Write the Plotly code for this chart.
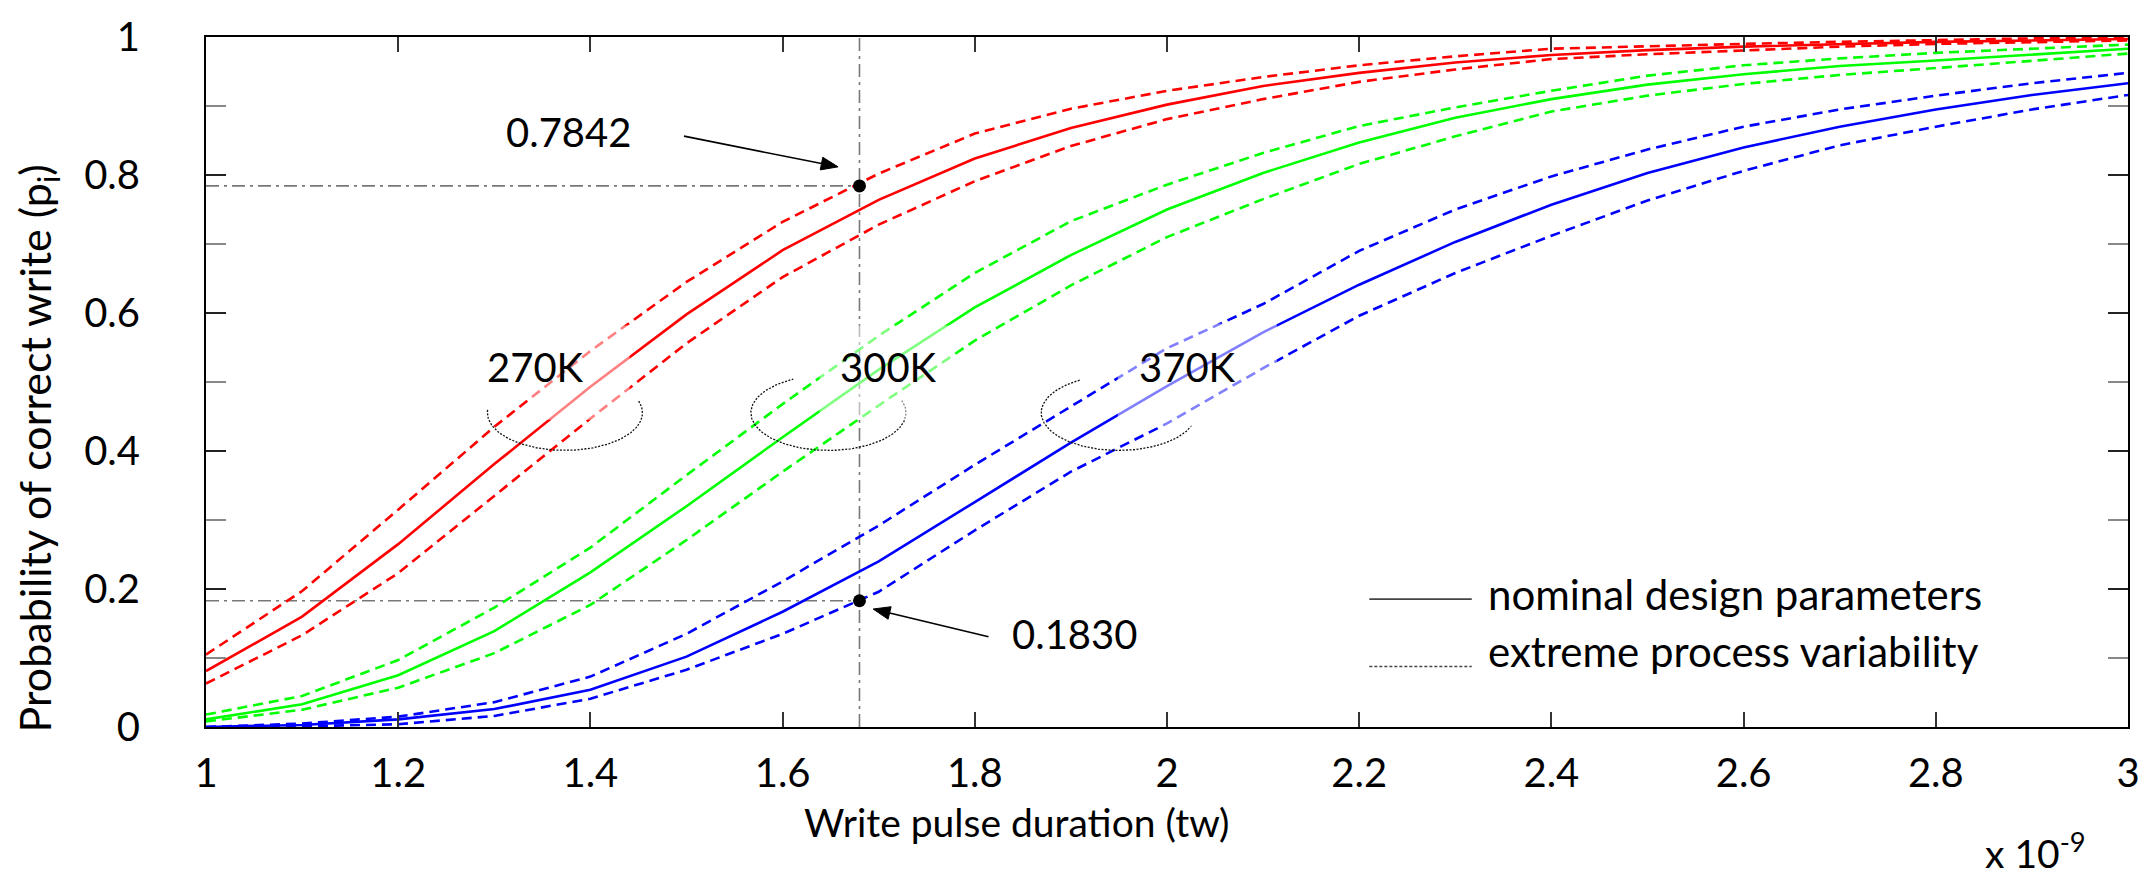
import numpy as np
import plotly.graph_objects as go

# Write pulse duration (x 1e-9 s)
tw = [1.0, 1.1, 1.2, 1.3, 1.4, 1.5, 1.6, 1.7, 1.8, 1.9, 2.0,
      2.1, 2.2, 2.3, 2.4, 2.5, 2.6, 2.7, 2.8, 2.9, 3.0]

# Probability of correct write, 270K
p270_nom = [0.081, 0.160, 0.265, 0.381, 0.493, 0.598, 0.691, 0.764, 0.824, 0.868, 0.902,
            0.929, 0.948, 0.963, 0.974, 0.981, 0.986, 0.990, 0.993, 0.995, 0.997]
p270_hi = [0.105, 0.197, 0.315, 0.435, 0.545, 0.645, 0.732, 0.802, 0.860, 0.896, 0.922,
           0.942, 0.959, 0.972, 0.983, 0.987, 0.990, 0.993, 0.996, 0.998, 1.000]
p270_lo = [0.063, 0.133, 0.223, 0.335, 0.447, 0.556, 0.652, 0.728, 0.791, 0.842, 0.881,
           0.910, 0.935, 0.953, 0.968, 0.975, 0.981, 0.986, 0.990, 0.993, 0.995]

# 300K
p300_nom = [0.011, 0.033, 0.075, 0.139, 0.224, 0.320, 0.420, 0.518, 0.608, 0.684, 0.750,
            0.803, 0.847, 0.883, 0.910, 0.931, 0.946, 0.958, 0.966, 0.975, 0.983]
p300_hi = [0.018, 0.045, 0.097, 0.173, 0.260, 0.365, 0.468, 0.567, 0.658, 0.733, 0.786,
           0.832, 0.871, 0.898, 0.922, 0.944, 0.959, 0.969, 0.977, 0.983, 0.989]
p300_lo = [0.008, 0.025, 0.057, 0.107, 0.177, 0.271, 0.370, 0.466, 0.560, 0.640, 0.710,
           0.765, 0.816, 0.856, 0.892, 0.915, 0.932, 0.945, 0.955, 0.965, 0.976]

# 370K
p370_nom = [0.000, 0.003, 0.011, 0.026, 0.054, 0.102, 0.167, 0.240, 0.326, 0.412, 0.494,
            0.572, 0.641, 0.703, 0.757, 0.803, 0.840, 0.870, 0.895, 0.916, 0.933]
p370_hi = [0.000, 0.005, 0.015, 0.036, 0.073, 0.135, 0.211, 0.292, 0.380, 0.465, 0.549,
           0.613, 0.690, 0.750, 0.798, 0.837, 0.870, 0.895, 0.915, 0.933, 0.948]
p370_lo = [0.000, 0.001, 0.004, 0.016, 0.041, 0.083, 0.135, 0.196, 0.285, 0.370, 0.440,
           0.520, 0.596, 0.658, 0.712, 0.763, 0.806, 0.843, 0.870, 0.895, 0.916]

temps = ["270K", "300K", "370K"]
colors = ["#ff0000", "#00ff00", "#0000ff"]
series = [(p270_nom, p270_hi, p270_lo),
          (p300_nom, p300_hi, p300_lo),
          (p370_nom, p370_hi, p370_lo)]

# Marked operating point
tw_mark = 1.68
p_mark = [0.7842, 0.1830]
p_mark_text = ["0.7842", "0.1830"]

x_ticks = [1, 1.2, 1.4, 1.6, 1.8, 2, 2.2, 2.4, 2.6, 2.8, 3]
x_ticktext = ["1", "1.2", "1.4", "1.6", "1.8", "2", "2.2", "2.4", "2.6", "2.8", "3"]
y_ticks = [0, 0.2, 0.4, 0.6, 0.8, 1]
y_ticktext = ["0", "0.2", "0.4", "0.6", "0.8", "1"]

# ---- page geometry (pixels) ----
W, H = 2152, 886
L, R, T, B = 206, 13, 31, 159
PW, PH = W - L - R, H - T - B
FONT = "Lato"


def px(x):
    return (x - L) / PW


def py(y):
    return (H - B - y) / PH


fig = go.Figure()

# Reference cross-hair through the marked pulse duration
guide = dict(color="#787878", width=1.6, dash="13px,5px,3px,5px")
for p in p_mark:
    fig.add_trace(go.Scatter(x=[1, tw_mark], y=[p, p], mode="lines",
                             line=guide, hoverinfo="skip", showlegend=False))
fig.add_trace(go.Scatter(x=[tw_mark, tw_mark], y=[0, 1], mode="lines",
                         line=guide, hoverinfo="skip", showlegend=False))

# Probability curves
for (nom, hi, lo), c, name in zip(series, colors, temps):
    for ys in (hi, lo):
        fig.add_trace(go.Scatter(x=tw, y=ys, mode="lines", name=name,
                                 line=dict(color=c, width=2.6, dash="10px,6px"),
                                 showlegend=False))
    fig.add_trace(go.Scatter(x=tw, y=nom, mode="lines", name=name,
                             line=dict(color=c, width=2.6), showlegend=False))

# Dotted grouping arcs around each temperature bundle
arcs = [(567, -18, 185), (832, -19, 243), (1124, 20, 241)]
for cx, a0, a1 in arcs:
    th = np.radians(np.linspace(a0, a1, 120))
    ax_px = cx + 78 * np.cos(th)
    ay_px = 410 + 38 * np.sin(th)
    fig.add_trace(go.Scatter(x=1 + (ax_px - L) / PW * 2, y=(H - B - ay_px) / PH,
                             mode="lines", line=dict(color="#111", width=1.3, dash="2px,1.5px"),
                             hoverinfo="skip", showlegend=False))

# Marked points
fig.add_trace(go.Scatter(x=[tw_mark] * len(p_mark), y=p_mark, mode="markers",
                         marker=dict(color="black", size=13), showlegend=False))

shapes = []
# Translucent label backgrounds
for x0, x1, y0, y1 in [(533, 632, 322, 417), (823, 957, 322, 417), (1123, 1283, 320, 425)]:
    shapes.append(dict(type="rect", xref="paper", yref="paper",
                       x0=px(x0), x1=px(x1), y0=py(y1), y1=py(y0),
                       fillcolor="rgba(255,255,255,0.5)", line=dict(width=0), layer="above"))
# Legend keys
shapes.append(dict(type="line", xref="paper", yref="paper", x0=px(1376), x1=px(1479),
                   y0=py(598), y1=py(598), line=dict(color="#444", width=1.6)))
shapes.append(dict(type="line", xref="paper", yref="paper", x0=px(1376), x1=px(1479),
                   y0=py(666), y1=py(666), line=dict(color="#444", width=1.6, dash="3px,2px")))


# Call-out arrows: a thin shaft plus a filled triangular head
def arrow(tail, head, head_len=17, half_w=6.5):
    t, h = np.array(tail, float), np.array(head, float)
    d = (h - t) / np.linalg.norm(h - t)
    n = np.array([-d[1], d[0]])
    base = h - head_len * d
    shapes.append(dict(type="line", xref="paper", yref="paper",
                       x0=px(t[0]), y0=py(t[1]), x1=px(base[0]), y1=py(base[1]),
                       line=dict(color="black", width=1.6)))
    pts = [h, base + half_w * n, base - half_w * n]
    path = "M " + " L ".join(f"{px(p[0]):.5f},{py(p[1]):.5f}" for p in pts) + " Z"
    shapes.append(dict(type="path", xref="paper", yref="paper", path=path,
                       fillcolor="black", line=dict(color="black", width=1)))


arrow((686.7, 131), (841.7, 162))
arrow((993, 636), (877, 608))

annotations = []


def text(t, x, y, size=40, xanchor="center", angle=0):
    annotations.append(dict(text=t, xref="paper", yref="paper", x=px(x), y=py(y),
                            xanchor=xanchor, yanchor="middle", showarrow=False,
                            textangle=angle, font=dict(family=FONT, size=size, color="black")))


text(p_mark_text[0], 571, 127)
text(p_mark_text[1], 1079, 633)
text(temps[0], 537, 364)
text(temps[1], 892, 364)
text(temps[2], 1193, 364)
text("nominal design parameters", 1493, 593, size=42, xanchor="left")
text("extreme process variability", 1493, 650, size=42, xanchor="left")
text("Write pulse duration (tw)", 1021, 823, size=39)
text("x 10<sup>-9</sup>", 2046, 852, size=39)
text("Probability of correct write (p<sub>i</sub>)", 36, 446, size=43, angle=-90)

fig.update_layout(
    width=W, height=H,
    margin=dict(l=L, r=R, t=T, b=B, pad=0),
    paper_bgcolor="white", plot_bgcolor="white",
    font=dict(family=FONT, size=40, color="black"),
    shapes=shapes, annotations=annotations,
    xaxis=dict(range=[1, 3], tickvals=x_ticks, ticktext=x_ticktext,
               ticks="inside", ticklen=15, tickwidth=1.5, tickcolor="#333",
               showline=True, linecolor="black", linewidth=2, mirror="ticks",
               showgrid=False, zeroline=False, ticklabelstandoff=10,
               tickfont=dict(family=FONT, size=40, color="black")),
    yaxis=dict(range=[0, 1], tickvals=y_ticks, ticktext=y_ticktext,
               ticks="inside", ticklen=20, tickwidth=1.5, tickcolor="#222",
               minor=dict(tickvals=[0.1, 0.3, 0.5, 0.7, 0.9], ticks="inside",
                          ticklen=20, tickwidth=1.5, tickcolor="#888"),
               showline=True, linecolor="black", linewidth=2, mirror="ticks",
               showgrid=False, zeroline=False, ticklabelstandoff=56,
               tickfont=dict(family=FONT, size=40, color="black")),
)

fig.write_html("out.html")
